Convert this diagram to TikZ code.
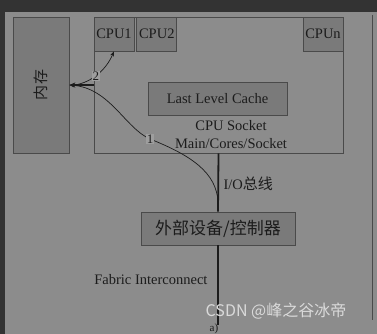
\documentclass[tikz,border=0pt]{standalone}
\usepackage{fontspec}
\setmainfont{Liberation Serif}
\newfontfamily\cjk{Noto Sans CJK SC}
\usepackage{xcolor}
\usetikzlibrary{arrows.meta,positioning,calc}

\definecolor{bgray}{HTML}{8C8C8C}
\definecolor{boxgray}{HTML}{7A7A7A}
\definecolor{edgegray}{HTML}{4A4A4A}
\definecolor{inkgray}{HTML}{1C1C1C}
\definecolor{tabgray}{HTML}{9E9E9E}
\definecolor{wmark}{HTML}{DADADA}

\tikzset{
  unit/.style={draw=edgegray, line width=0.8pt, fill=boxgray, inner sep=0pt},
  numlbl/.style={fill=tabgray, inner sep=0.5pt, font=\fontsize{13}{14}\selectfont},
  flow/.style={inkgray, line width=0.7pt, -{Stealth[length=5pt, width=4pt]}},
}

\begin{document}
\begin{tikzpicture}[x=1pt, y=-1pt, font=\fontsize{14.5}{17}\selectfont, text=inkgray]
\useasboundingbox (0,0) rectangle (377,334);
\fill[bgray] (0,0) rectangle (377,334);
\fill[inkgray!90] (0,0) rectangle (377,12);
\fill[inkgray!90] (0,0) rectangle (5,334);
\draw[edgegray, line width=0.9pt] (372,15) -- (372,320);

% memory and socket
\node[unit, minimum width=56pt, minimum height=136pt] (mem) at (41,85) {};
\node[rotate=90, font=\cjk\fontsize{15}{17}\selectfont] (memlbl) at (mem.center) {内存};
\node[unit, fill=none, minimum width=249pt, minimum height=136pt] (socket) at (218.5,85) {};
\node[unit, minimum width=40pt, minimum height=34pt, anchor=north west] (cpu1) at (socket.north west) {CPU1};
\node[unit, minimum width=40pt, minimum height=34pt, right=2pt of cpu1] (cpu2) {CPU2};
\node[unit, minimum width=40pt, minimum height=34pt, anchor=north east] (cpun) at (socket.north east) {CPUn};
\node[unit, minimum width=139pt, minimum height=33pt] (llc) at (217.5,98.5) {Last Level Cache};
\node (sockname) at (231,126) {CPU Socket};
\node (sockpart) at (231,144) {Main/Cores/Socket};

% devices
\node[unit, minimum width=154pt, minimum height=33pt] (dev) at (218,228.5)
  {\cjk\fontsize{17}{19}\selectfont 外部设备/控制器};
\coordinate (busend) at (218,325);
\coordinate (tap) at ($(socket.south)!0.85!(dev.north)$);

% buses
\draw[inkgray, line width=1.8pt] (socket.south) -- (dev.north);
\draw[inkgray, line width=1.8pt] (dev.south) -- (busend);
\node[anchor=west] (iobus) at (220,184) {I/O{\cjk\fontsize{15}{17}\selectfont 总线}};
\node[anchor=east] (fabric) at (211,280) {Fabric Interconnect};
\node[font=\fontsize{11}{12}\selectfont] (cap) at (214,329) {a)};

% access paths
\draw[inkgray, line width=1.6pt, -{Stealth[length=6pt, width=5pt]}] (socket.west |- mem.east) -- (mem.east);
\draw[flow] (tap) .. controls (217,172) and (190,155) .. (150,139)
  node[numlbl] (one) {1}
  .. controls (125,128) and (110,88) .. (mem.east);
\draw[flow] (75,85) .. controls (92,82) and (106,70) .. node[numlbl, pos=0.45] (two) {2} (cpu1.south);

% watermark
\node[text=wmark, font=\cjk\fontsize{16}{18}\selectfont] (wm) at (276,311) {CSDN @峰之谷冰帝};
\end{tikzpicture}
\end{document}
